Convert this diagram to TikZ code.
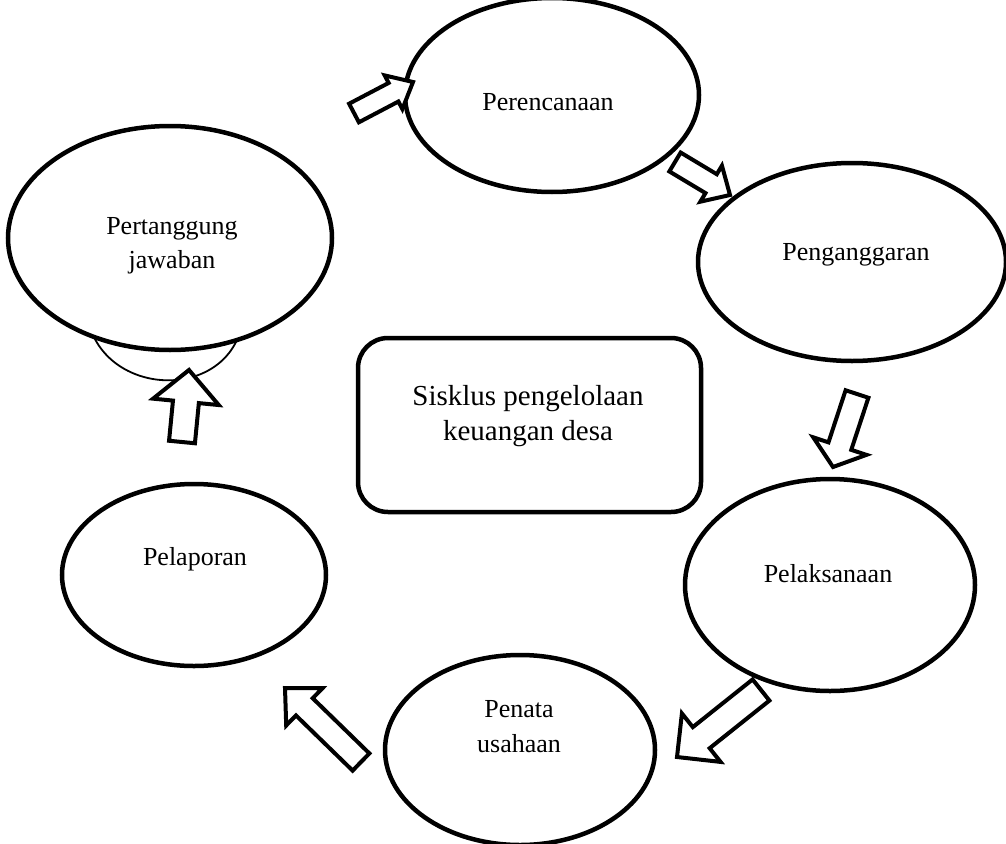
\documentclass[tikz,border=0pt]{standalone}
\usepackage{fontspec}
\setmainfont{Liberation Serif}
\usetikzlibrary{shapes.geometric,calc}
\tikzset{
  oval/.style={ellipse, draw, line width=4.5pt, fill=white, inner sep=0pt},
  lbl/.style={font=\fontsize{26}{34}\selectfont, anchor=base, inner sep=0pt, align=center},
  biglbl/.style={font=\fontsize{29}{35}\selectfont, anchor=base, inner sep=0pt, align=center},
  barrow/.style={draw, line width=4pt, fill=white, line join=miter},
  centerbox/.style={draw, line width=4.5pt, rounded corners=30pt, fill=white, inner sep=0pt},
  thinarc/.style={draw, line width=1.8pt},
}
% #1 tail, #2 tip, #3 shaft half width, #4 head half width, #5 head length
\newcommand{\blockarrow}[5]{%
  \coordinate (#1hb) at ($(#2)!#5!(#1)$);
  \draw[barrow] ($(#1)!#3!90:(#2)$) -- ($(#1hb)!#3!90:(#2)$) -- ($(#1hb)!#4!90:(#2)$)
     -- (#2) -- ($(#1hb)!#4!-90:(#2)$) -- ($(#1hb)!#3!-90:(#2)$) -- ($(#1)!#3!-90:(#2)$) -- cycle;
}
\begin{document}
\begin{tikzpicture}[x=1pt, y=-1pt]
\useasboundingbox (0,0) rectangle (1006,843);

% thin arc below Pertanggung jawaban
\coordinate (arcL) at (88,320);
\coordinate (arcR) at (242,325);
\draw[thinarc] (arcL) .. controls (105,397) and (225,402) .. (arcR);

% ellipses
\node[oval, minimum width=294pt, minimum height=194pt] (plan) at (552,95) {};
\node[oval, minimum width=308pt, minimum height=198pt] (budget) at (852,262) {};
\node[oval, minimum width=290pt, minimum height=212pt] (exec) at (830,585) {};
\node[oval, minimum width=270pt, minimum height=190pt] (admin) at (520,750) {};
\node[oval, minimum width=264pt, minimum height=182pt] (report) at (194,575) {};
\node[oval, minimum width=324pt, minimum height=224pt] (account) at (170,238) {};

% centre box
\node[centerbox, minimum width=343pt, minimum height=174pt] (cycle) at (529.5,425) {};

% labels
\node[lbl] (tplan) at (548,110) {Perencanaan};
\node[lbl] (tbudget) at (856,260) {Penganggaran};
\node[lbl] (texec) at (828,582) {Pelaksanaan};
\node[lbl] (tadmin1) at (519,717) {Penata};
\node[lbl] (tadmin2) at (519,752) {usahaan};
\node[lbl] (treport) at (195,565) {Pelaporan};
\node[lbl] (tacc1) at (172,234) {Pertanggung};
\node[lbl] (tacc2) at (172,268) {jawaban};
\node[biglbl] (tcyc1) at (528,405) {Sisklus pengelolaan};
\node[biglbl] (tcyc2) at (528,440) {keuangan desa};

% block arrows
\coordinate (aT) at (354,113); \coordinate (aH) at (413,82);
\coordinate (bT) at (675,162); \coordinate (bH) at (730,195);
\coordinate (cT) at (857,394); \coordinate (cH) at (833,467);
\coordinate (dT) at (761,690); \coordinate (dH) at (677,757);
\coordinate (eT) at (361,762); \coordinate (eH) at (285,688);
\coordinate (fT) at (182,442); \coordinate (fH) at (189,370);
\blockarrow{aT}{aH}{10.5pt}{19pt}{22pt}
\blockarrow{bT}{bH}{11pt}{21pt}{22pt}
\blockarrow{cT}{cH}{12pt}{28pt}{22pt}
\blockarrow{dT}{dH}{13.5pt}{31pt}{31pt}
\blockarrow{eT}{eH}{12pt}{26pt}{27pt}
\blockarrow{fT}{fH}{13pt}{33pt}{32pt}
\end{tikzpicture}
\end{document}
